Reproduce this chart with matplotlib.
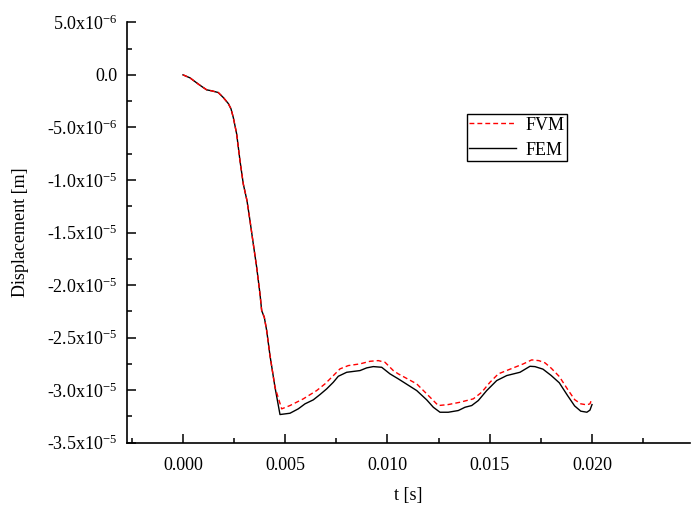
import matplotlib
matplotlib.use("Agg")
import matplotlib.pyplot as plt
from matplotlib.ticker import MultipleLocator, FuncFormatter

plt.rcParams["font.family"] = ["Liberation Serif", "DejaVu Serif"]
plt.rcParams["mathtext.fontset"] = "custom"
plt.rcParams["mathtext.rm"] = "Liberation Serif"
plt.rcParams["mathtext.it"] = "Liberation Serif:italic"
plt.rcParams["axes.unicode_minus"] = False

# time [ms] and displacement [1e-5 m]
t_fem = [0.0, 0.342, 0.733, 0.978, 1.159, 1.403, 1.726, 1.971, 2.215, 2.347,
         2.460, 2.626, 2.787, 2.949, 3.130, 3.276, 3.438, 3.604, 3.765, 3.848,
         3.976, 4.093, 4.254, 4.499, 4.743, 5.232, 5.638, 5.966, 6.372, 6.699,
         7.027, 7.350, 7.594, 8.005, 8.655, 8.983, 9.306, 9.716, 10.122,
         10.528, 11.428, 11.917, 12.240, 12.567, 12.973, 13.462, 13.790,
         14.117, 14.440, 14.851, 15.340, 15.829, 16.479, 16.968, 17.21, 17.60,
         18.0, 18.4, 18.8, 19.15, 19.45, 19.75, 19.90, 20.0]
d_fem = [0.0, -0.0285, -0.0856, -0.1188, -0.1426, -0.1521, -0.1683, -0.2158,
         -0.2728, -0.3232, -0.4059, -0.5637, -0.8175, -1.039, -1.1978,
         -1.3879, -1.6094, -1.8318, -2.0847, -2.2434, -2.3071, -2.4336,
         -2.6712, -2.9725, -3.232, -3.2197, -3.1778, -3.1303, -3.0923,
         -3.0419, -2.9877, -2.925, -2.868, -2.8299, -2.8138, -2.7881, -2.7758,
         -2.7824, -2.8452, -2.8927, -3.0039, -3.0923, -3.1627, -3.2102,
         -3.2102, -3.194, -3.1627, -3.1465, -3.099, -3.0039, -2.9089, -2.8613,
         -2.8299, -2.7729, -2.776, -2.80, -2.86, -2.93, -3.05, -3.15, -3.20,
         -3.21, -3.19, -3.137]

t_fvm = t_fem[:24] + [4.826, 5.232, 5.883, 6.538, 6.944, 7.271, 7.677, 8.083,
                      8.655, 9.144, 9.550, 9.878, 10.284, 10.528, 11.428,
                      11.917, 12.484, 12.973, 13.545, 14.196, 14.606, 15.012,
                      15.418, 15.907, 16.641, 17.052, 17.40, 17.70, 18.0,
                      18.4, 18.8, 19.15, 19.45, 19.75, 19.90, 20.0]
d_fvm = d_fem[:24] + [-3.178, -3.1465, -3.0828, -3.0039, -2.9402, -2.8775,
                      -2.7976, -2.7663, -2.7501, -2.7254, -2.7188, -2.7349,
                      -2.8138, -2.8452, -2.9402, -3.0353, -3.1465, -3.137,
                      -3.1151, -3.0828, -3.0201, -2.925, -2.8452, -2.8071,
                      -2.7501, -2.7121, -2.719, -2.74, -2.79, -2.87, -2.99,
                      -3.09, -3.13, -3.14, -3.13, -3.08]

y_ticks = [5e-6, 0.0, -5e-6, -1e-5, -1.5e-5, -2e-5, -2.5e-5, -3e-5, -3.5e-5]
y_labels = ["5.0x10$^{-6}$", "0.0", "-5.0x10$^{-6}$", "-1.0x10$^{-5}$",
            "-1.5x10$^{-5}$", "-2.0x10$^{-5}$", "-2.5x10$^{-5}$",
            "-3.0x10$^{-5}$", "-3.5x10$^{-5}$"]

fig = plt.figure(figsize=(6.92, 5.09), dpi=100)
ax = fig.add_axes([127 / 692, 1 - 442.7 / 509, 563 / 692, 420.4 / 509])

ax.plot([v * 1e-3 for v in t_fvm], [v * 1e-5 for v in d_fvm], color="red",
        lw=1.0, ls=(0, (3.5, 2.2)), label="FVM", zorder=3)
ax.plot([v * 1e-3 for v in t_fem], [v * 1e-5 for v in d_fem], color="black",
        lw=1.0, label="FEM", zorder=2)

ax.set_xlim(-0.002738, 0.024792)
ax.set_ylim(-3.5e-5, 5e-6)

ax.xaxis.set_major_locator(MultipleLocator(0.005))
ax.xaxis.set_minor_locator(MultipleLocator(0.0025))
ax.xaxis.set_major_formatter(FuncFormatter(lambda v, p: f"{v:.3f}"))
ax.set_yticks(y_ticks)
ax.set_yticklabels(y_labels)
ax.yaxis.set_minor_locator(MultipleLocator(2.5e-6))

for s in ["top", "right"]:
    ax.spines[s].set_visible(False)
for s in ["left", "bottom"]:
    ax.spines[s].set_linewidth(1.2)

ax.tick_params(which="major", direction="in", length=6.5, width=1.1,
               labelsize=13, pad=7)
ax.tick_params(which="minor", direction="in", length=3.5, width=1.1)
ax.tick_params(axis="x", which="major", pad=10)

ax.set_xlabel("t [s]", fontsize=13, labelpad=10)
ax.set_ylabel("Displacement [m]", fontsize=13, labelpad=13)

leg = ax.legend(loc="upper left", bbox_to_anchor=(0.6035, 0.782),
                borderaxespad=0, fontsize=13, handlelength=2.55,
                handletextpad=0.55, borderpad=0.15, labelspacing=0.45,
                fancybox=False, edgecolor="black", framealpha=1)
leg.get_frame().set_linewidth(1.0)

fig.savefig("out.png", dpi=100)
